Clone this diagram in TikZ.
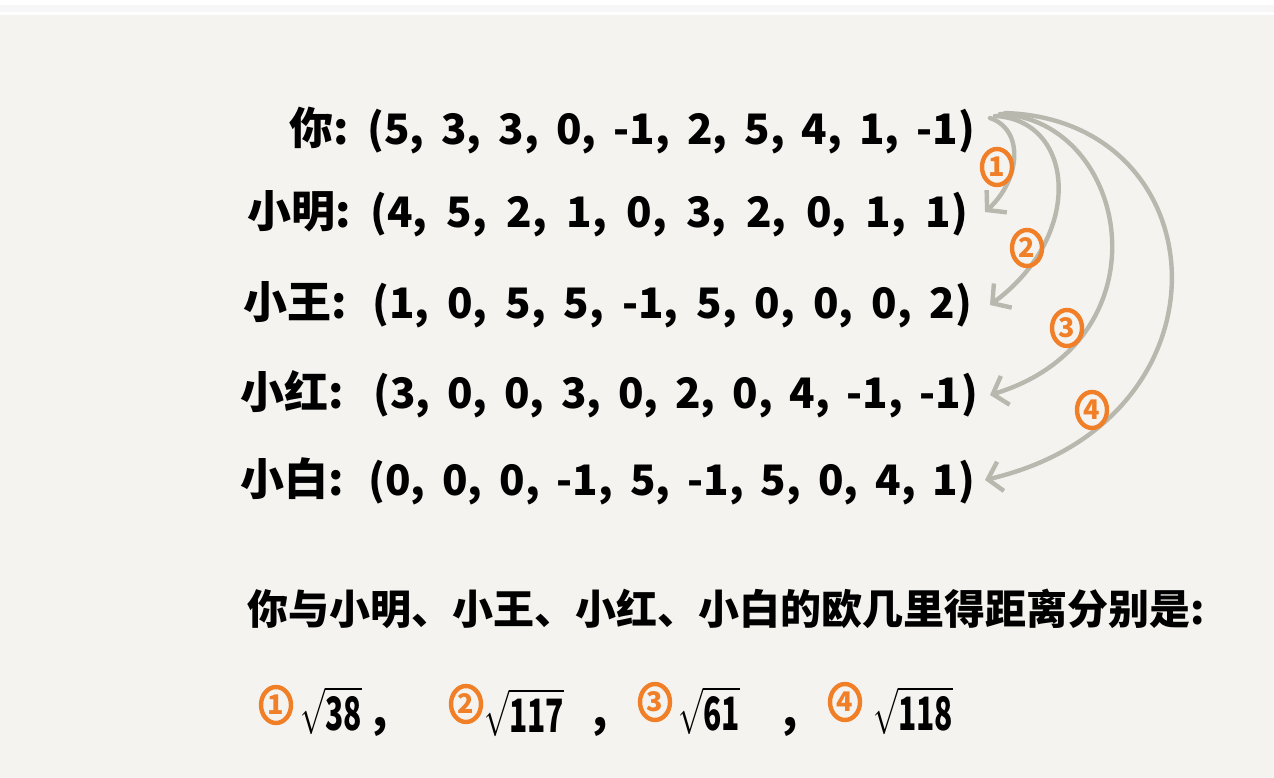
\documentclass[tikz,border=0pt]{standalone}
\usepackage{amsmath}
\usepackage{graphicx}
\usepackage{fontspec}
\setmainfont{Noto Sans CJK SC}
\usepackage{xcolor}
\usetikzlibrary{arrows.meta, positioning, shapes.geometric}
\definecolor{paper}{HTML}{F4F3EF}
\definecolor{curve}{HTML}{B8B8AF}
\definecolor{mark}{HTML}{F07F28}
\newcommand{\sepc}{,\hfill}
\newcommand{\bigroot}[1]{\scalebox{3.0}[4.6]{$\sqrt{\mbox{\bfseries #1}}$}}
\tikzset{
  row/.style={anchor=base west, inner sep=0pt, font=\fontsize{42}{48}\selectfont\bfseries},
  who/.style={anchor=base east, inner sep=0pt, font=\fontsize{44}{50}\selectfont\bfseries},
  badge/.style={ellipse, draw=mark, line width=4.4pt, text=mark, inner sep=0pt,
                minimum width=30pt, minimum height=36pt, font=\fontsize{27}{29}\selectfont\bfseries},
  link/.style={draw=curve, line width=4.4pt, line cap=round, line join=round,
               -{Straight Barb[length=13pt, width=30pt, line width=4.4pt]}},
  root/.style={anchor=base west, inner sep=0pt, font=\normalsize},
  comma/.style={anchor=base west, inner sep=0pt, font=\fontsize{44}{50}\selectfont\bfseries},
}

\begin{document}
\begin{tikzpicture}[x=1pt, y=-1pt]
\fill[paper] (0,0) rectangle (1274,778);
\fill[white] (0,0) rectangle (1274,15);
\fill[black!3] (0,5) rectangle (1274,12);
\useasboundingbox (0,0) rectangle (1274,778);

\node[who] (n0) at (349,145) {你:};
\node[who] (n1) at (351,227) {小明:};
\node[who] (n2) at (347,318) {小王:};
\node[who] (n3) at (344,408) {小红:};
\node[who] (n4) at (344,495) {小白:};

\node[row] (t0) at (367,145) {\hbox to 608pt{(5\sepc 3\sepc 3\sepc 0\sepc -1\sepc 2\sepc 5\sepc 4\sepc 1\sepc -1)}};
\node[row] (t1) at (370,227) {\hbox to 598pt{(4\sepc 5\sepc 2\sepc 1\sepc 0\sepc 3\sepc 2\sepc 0\sepc 1\sepc 1)}};
\node[row] (t2) at (372,318) {\hbox to 600pt{(1\sepc 0\sepc 5\sepc 5\sepc -1\sepc 5\sepc 0\sepc 0\sepc 0\sepc 2)}};
\node[row] (t3) at (373,408) {\hbox to 605pt{(3\sepc 0\sepc 0\sepc 3\sepc 0\sepc 2\sepc 0\sepc 4\sepc -1\sepc -1)}};
\node[row] (t4) at (368,495) {\hbox to 607pt{(0\sepc 0\sepc 0\sepc -1\sepc 5\sepc -1\sepc 5\sepc 0\sepc 4\sepc 1)}};

\coordinate (from1) at (990,118);
\coordinate (from2) at (995,116);
\coordinate (from3) at (1000,114);
\coordinate (from4) at (1005,113);
\coordinate (to1) at (985,212);
\coordinate (to2) at (990,305);
\coordinate (to3) at (990,395);
\coordinate (to4) at (985,480);

\draw[link] (from1) .. controls (1025,130) and (1020,180) .. (to1);
\draw[link] (from2) .. controls (1075,120) and (1085,235) .. (to2);
\draw[link] (from3) .. controls (1130,120) and (1170,340) .. (to3);
\draw[link] (from4) .. controls (1220,120) and (1240,420) .. (to4);

\node[badge] (m1) at (997,167) {1};
\node[badge] (m2) at (1027,248) {2};
\node[badge] (m3) at (1067,328) {3};
\node[badge] (m4) at (1092,410) {4};

\node[anchor=base west, inner sep=0pt, font=\fontsize{41}{48}\selectfont\bfseries] (title) at (247,624)
  {你与小明、小王、小红、小白的欧几里得距离分别是:};

\node[badge] (b1) at (276,705) {1};
\node[badge] (b2) at (466,704) {2};
\node[badge] (b3) at (655,702) {3};
\node[badge] (b4) at (845,702) {4};

\node[root] (r1) at (300,730) {\bigroot{38}};
\node[root] (r2) at (484,732) {\bigroot{117}};
\node[root] (r3) at (678,730) {\bigroot{61}};
\node[root] (r4) at (873,730) {\bigroot{118}};

\node[comma] (c1) at (372,726) {,};
\node[comma] (c2) at (592,726) {,};
\node[comma] (c3) at (782,726) {,};
\end{tikzpicture}
\end{document}
